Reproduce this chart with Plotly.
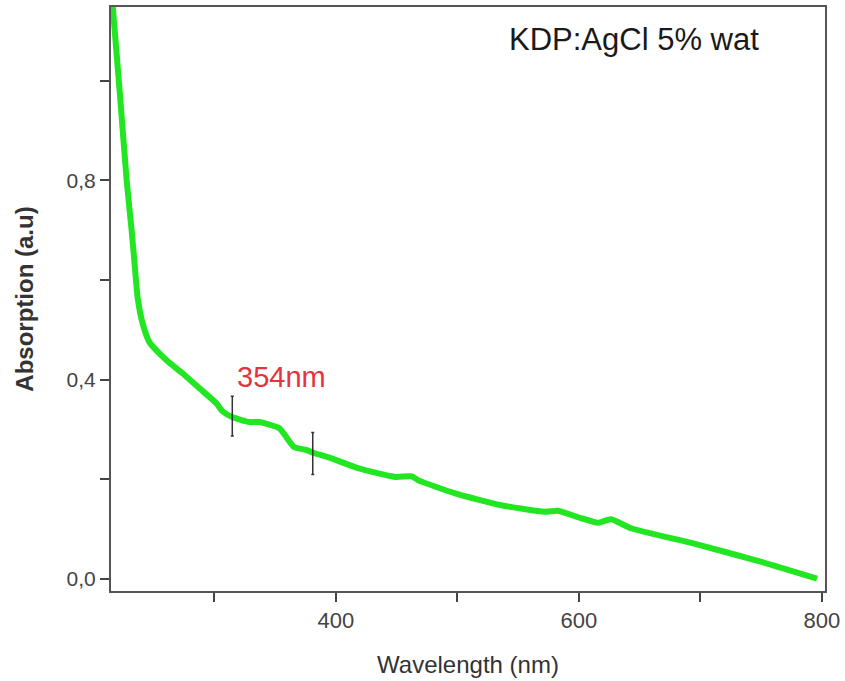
import plotly.graph_objects as go

# Absorption spectrum
wavelength = [216.4, 222.1, 227.9, 232.0, 234.4, 236.9, 241.0, 246.7, 260.7, 273.8,
              287.7, 301.6, 306.6, 314.8, 328.7, 336.9, 353.3, 359.8, 365.6,
              375.4, 382.0, 394.3, 418.9, 448.9, 462.5, 468.0, 498.1, 536.3, 571.9,
              582.8, 601.9, 615.6, 626.5, 642.9, 694.8, 749.4, 795.9]
absorption = [1.150, 0.980, 0.800, 0.699, 0.633, 0.565, 0.513, 0.475, 0.439, 0.413,
              0.383, 0.353, 0.337, 0.325, 0.315, 0.315, 0.303, 0.283, 0.265,
              0.259, 0.253, 0.244, 0.222, 0.205, 0.206, 0.198, 0.172, 0.148, 0.135,
              0.137, 0.122, 0.113, 0.120, 0.102, 0.071, 0.035, 0.001]

# Error-bar style markers
marker_x = [314.8, 381.0]
marker_y = [0.327, 0.252]
marker_err = [0.040, 0.042]

x_tickvals = [300, 400, 500, 600, 700, 800]
x_ticktext = ["", "400", "", "600", "", "800"]
y_tickvals = [0.0, 0.2, 0.4, 0.6, 0.8, 1.0]
y_ticktext = ["0,0", "", "0,4", "", "0,8", ""]

series_label = "KDP:AgCl 5% wat"
peak_label = "354nm"
peak_x = 354.9
peak_y = 0.405

FONT = "Liberation Sans, Arial, sans-serif"

fig = go.Figure()
fig.add_trace(go.Scatter(
    x=wavelength, y=absorption, mode="lines",
    line=dict(color="#22e622", width=6, shape="spline", smoothing=0.5),
    hoverinfo="skip", showlegend=False))
fig.add_trace(go.Scatter(
    x=marker_x, y=marker_y, mode="markers",
    marker=dict(size=1, color="#333333"),
    error_y=dict(type="data", array=marker_err, visible=True,
                 color="#333333", thickness=1.5, width=1.5),
    hoverinfo="skip", showlegend=False))

fig.add_annotation(x=peak_x, y=peak_y, xref="x", yref="y", text=peak_label,
                   xanchor="center", yanchor="middle",
                   showarrow=False, font=dict(family=FONT, size=29, color="#e5323c"))
fig.add_annotation(x=0.732, y=0.945, xref="paper", yref="paper", text=series_label,
                   xanchor="center", yanchor="middle",
                   showarrow=False, font=dict(family=FONT, size=31, color="#1a1a1a"))

fig.update_layout(
    width=845, height=681,
    margin=dict(l=111, r=17, t=5, b=90),
    plot_bgcolor="white", paper_bgcolor="white",
    font=dict(family=FONT),
)
fig.update_xaxes(
    range=[215, 802.5], tickvals=x_tickvals, ticktext=x_ticktext,
    ticks="outside", ticklen=9, tickwidth=1.5, tickcolor="#444",
    showline=True, linecolor="#555", linewidth=2, mirror=True,
    showgrid=False, zeroline=False, ticklabeloverflow="allow",
    tickfont=dict(family=FONT, size=22, color="#444"),
    title=dict(text="Wavelength (nm)", font=dict(family=FONT, size=24, color="#333"), standoff=24),
)
fig.update_yaxes(
    range=[-0.024, 1.148], tickvals=y_tickvals, ticktext=y_ticktext,
    ticks="outside", ticklen=9, tickwidth=1.5, tickcolor="#444",
    showline=True, linecolor="#555", linewidth=2, mirror=True,
    showgrid=False, zeroline=False,
    tickfont=dict(family=FONT, size=21, color="#444"),
    title=dict(text="<b>Absorption (a.u)</b>", font=dict(family=FONT, size=24, color="#333"), standoff=26),
)

fig.write_html("out.html", config={"displayModeBar": False},
               post_script="document.body.style.margin='0';")
